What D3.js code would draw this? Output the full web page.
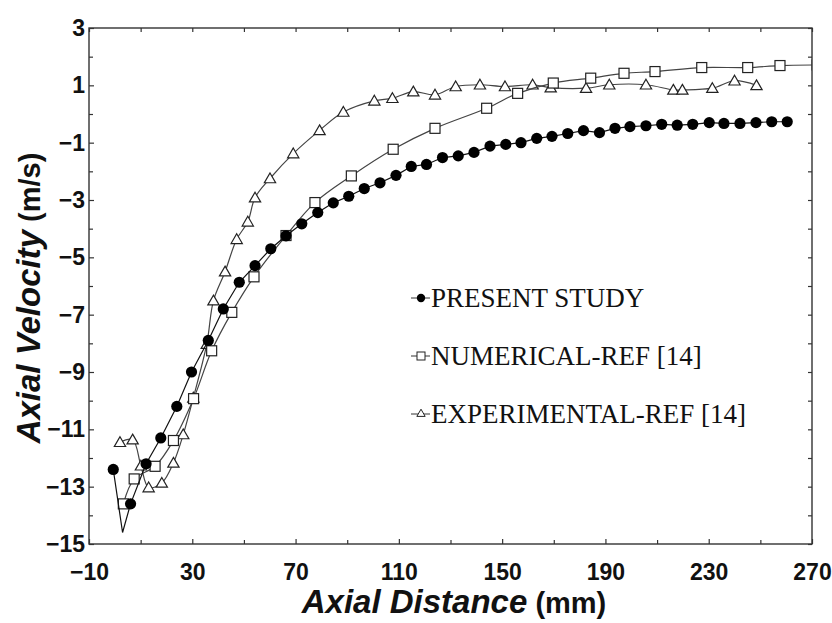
<!DOCTYPE html>
<html>
<head>
<meta charset="utf-8">
<script src="https://cdn.jsdelivr.net/npm/d3@7"></script>
<style>
  body { margin: 0; background: #fff; }
  svg { display: block; }
</style>
</head>
<body>
<svg id="chart" width="832" height="623"></svg>
<script>
// values
const presentX = [-0.6, 6.1, 12.1, 17.8, 24.0, 29.7, 36.2, 42.0, 48.2, 54.3, 60.4, 66.3, 72.4, 78.6, 84.6,
  90.6, 96.6, 102.7, 108.9, 114.8, 120.7, 126.9, 133.0, 139.1, 145.3, 151.4, 157.3, 163.4, 169.3, 175.4,
  181.5, 187.7, 193.7, 199.5, 205.7, 211.8, 217.8, 223.8, 230.2, 235.9, 242.1, 248.3, 254.4, 260.4];
const presentY = [-12.4, -13.6, -12.2, -11.3, -10.2, -9.0, -7.9, -6.8, -5.87, -5.29, -4.70, -4.25, -3.83, -3.44, -3.10,
  -2.87, -2.60, -2.40, -2.14, -1.83, -1.76, -1.52, -1.46, -1.34, -1.12, -1.06, -1.00, -0.85, -0.78, -0.68,
  -0.58, -0.65, -0.50, -0.44, -0.41, -0.36, -0.39, -0.36, -0.30, -0.33, -0.33, -0.30, -0.27, -0.27];
// the line dips to a sharp spike between the first two circles
const presentSpikeX = 3.0;
const presentSpikeY = -14.6;

const numericalX = [3.3, 7.5, 15.6, 22.7, 30.5, 37.5, 45.3, 53.9, 66.3, 77.5, 91.6, 107.8, 124.0, 144.0,
  156.0, 169.8, 184.3, 197.2, 209.2, 227.3, 245.1, 257.6, 272];
const numericalY = [-13.6, -12.73, -12.29, -11.39, -9.93, -8.26, -6.92, -5.68, -4.24, -3.09, -2.16, -1.23, -0.50, 0.20,
  0.72, 1.08, 1.25, 1.42, 1.48, 1.62, 1.62, 1.69, 1.71];

const experimentalX = [2.0, 6.9, 10.1, 13.1, 18.2, 22.7, 26.5, 30.4, 35.6, 38.2, 42.7, 47.2, 51.5, 54.3, 60.1,
  69.1, 79.3, 88.5, 100.5, 107.5, 115.6, 124.0, 132.0, 141.4, 151.1, 161.8, 168.8, 182.5, 191.5, 205.7,
  216.3, 219.8, 231.4, 240.0, 248.5];
const experimentalY = [-11.45, -11.36, -12.27, -13.03, -12.87, -12.17, -11.18, -9.9, -8.03, -6.51, -5.5, -4.37, -3.76, -2.92, -2.25,
  -1.38, -0.57, 0.07, 0.46, 0.55, 0.78, 0.67, 0.96, 1.02, 0.96, 1.02, 0.92, 0.90, 1.02, 1.02,
  0.84, 0.84, 0.90, 1.16, 1.00];

const xTicks = [-10, 30, 70, 110, 150, 190, 230, 270];
const xMinorTicks = [10, 50, 90, 130, 170, 210, 250];
const yTicks = [3, 1, -1, -3, -5, -7, -9, -11, -13, -15];
const yMinorTicks = [2, 0, -2, -4, -6, -8, -10, -12, -14];
const legendLabels = ['PRESENT STUDY', 'NUMERICAL-REF [14]', 'EXPERIMENTAL-REF [14]'];

let svg = d3.select('#chart');

let padL = 89, padT = 28, padR = 812, padB = 544;
let w = padR - padL, h = padB - padT;

let x = d3.scaleLinear().domain([-10, 270]).range([0, w]);
let y = d3.scaleLinear().domain([-15, 3]).range([h, 0]);

let g = svg.append('g').attr('transform', `translate(${padL},${padT})`);

g.append('clipPath').attr('id', 'plotclip')
  .append('rect').attr('width', w).attr('height', h);

let axisColor = '#333';
let tickFont = 'bold 23px "Liberation Sans", Arial, sans-serif';

// frame
g.append('rect')
  .attr('width', w).attr('height', h)
  .attr('fill', 'none').attr('stroke', axisColor).attr('stroke-width', 1.4);

function styleAxis(sel) {
  sel.select('.domain').remove();
  sel.selectAll('line').attr('stroke', axisColor).attr('stroke-width', 1.2);
  sel.selectAll('text').style('font', tickFont).attr('fill', '#111');
}

// major ticks with labels (inward)
g.append('g').attr('transform', `translate(0,${h})`)
  .call(d3.axisBottom(x).tickValues(xTicks).tickSize(-5).tickPadding(20).tickFormat(d3.format('d')))
  .call(styleAxis);
g.append('g')
  .call(d3.axisLeft(y).tickValues(yTicks).tickSize(-5).tickPadding(4).tickFormat(d3.format('d')))
  .call(styleAxis);

// minor ticks + mirrored ticks
g.append('g').attr('transform', `translate(0,${h})`)
  .call(d3.axisBottom(x).tickValues(xMinorTicks).tickSize(-4).tickFormat(''))
  .call(styleAxis);
g.append('g')
  .call(d3.axisLeft(y).tickValues(yMinorTicks).tickSize(-4).tickFormat(''))
  .call(styleAxis);
g.append('g').attr('transform', `translate(${w},0)`)
  .call(d3.axisRight(y).tickValues(yTicks.concat(yMinorTicks)).tickSize(-4).tickFormat(''))
  .call(styleAxis);
g.append('g')
  .call(d3.axisTop(x).tickValues(xTicks.concat(xMinorTicks)).tickSize(-4).tickFormat(''))
  .call(styleAxis);

let plot = g.append('g').attr('clip-path', 'url(#plotclip)');

let present = presentX.map((d, i) => ({x: d, y: presentY[i]}));
let presentLine = present.slice(0, 1)
  .concat([{x: presentSpikeX, y: presentSpikeY}], present.slice(1));
let numerical = numericalX.map((d, i) => ({x: d, y: numericalY[i]}));
let experimental = experimentalX.map((d, i) => ({x: d, y: experimentalY[i]}));

let smooth = d3.line().curve(d3.curveCatmullRom.alpha(0.5))
  .x(d => x(d.x)).y(d => y(d.y));
let straight = d3.line().x(d => x(d.x)).y(d => y(d.y));

let triangle = d3.symbol().type(d3.symbolTriangle).size(55);

// experimental
plot.append('path').datum(experimental)
  .attr('fill', 'none').attr('stroke', '#444').attr('stroke-width', 1.2)
  .attr('d', smooth);
plot.selectAll('.tri').data(experimental).enter().append('path')
  .attr('class', 'tri')
  .attr('transform', d => `translate(${x(d.x)},${y(d.y) + 1})`)
  .attr('d', triangle)
  .attr('fill', '#fff').attr('stroke', '#222').attr('stroke-width', 1.2);

// numerical
plot.append('path').datum(numerical)
  .attr('fill', 'none').attr('stroke', '#444').attr('stroke-width', 1.2)
  .attr('d', smooth);
plot.selectAll('.sq').data(numerical).enter().append('rect')
  .attr('class', 'sq')
  .attr('x', d => x(d.x) - 5).attr('y', d => y(d.y) - 5)
  .attr('width', 10).attr('height', 10)
  .attr('fill', '#fff').attr('stroke', '#222').attr('stroke-width', 1.2);

// present study
plot.append('path').datum(presentLine)
  .attr('fill', 'none').attr('stroke', '#111').attr('stroke-width', 1.2)
  .attr('d', straight);
plot.selectAll('.dot').data(present).enter().append('circle')
  .attr('class', 'dot')
  .attr('cx', d => x(d.x)).attr('cy', d => y(d.y))
  .attr('r', 5.6).attr('fill', '#000');

// legend
let legend = svg.append('g').attr('transform', 'translate(411,298)');
let rowGap = 58;
legendLabels.forEach((label, i) => {
  let row = legend.append('g').attr('transform', `translate(0,${i * rowGap})`);
  row.append('line').attr('x1', 0).attr('x2', 19).attr('y1', 0).attr('y2', 0)
    .attr('stroke', '#333').attr('stroke-width', 1);
  if (i === 0) {
    row.append('circle').attr('cx', 10).attr('cy', 0).attr('r', 4.2).attr('fill', '#000');
  } else if (i === 1) {
    row.append('rect').attr('x', 6).attr('y', -4).attr('width', 8).attr('height', 8)
      .attr('fill', '#fff').attr('stroke', '#222');
  } else {
    row.append('path').attr('transform', 'translate(10,0)')
      .attr('d', d3.symbol().type(d3.symbolTriangle).size(30))
      .attr('fill', '#fff').attr('stroke', '#222');
  }
  row.append('text').attr('x', 20).attr('y', 9)
    .style('font', '27px "Liberation Serif", "Times New Roman", serif')
    .attr('fill', '#111')
    .text(label);
});

// axis titles
let titleFont = 'bold 33px "Liberation Sans", Arial, sans-serif';
let xTitle = svg.append('text')
  .attr('x', 454).attr('y', 613)
  .attr('text-anchor', 'middle')
  .style('font', titleFont)
  .attr('fill', '#111');
xTitle.append('tspan').style('font-style', 'italic').text('Axial Distance');
xTitle.append('tspan').style('font-size', '29px').text(' (mm)');

let yTitle = svg.append('text')
  .attr('transform', 'translate(40,298) rotate(-90)')
  .attr('text-anchor', 'middle')
  .style('font', titleFont)
  .attr('fill', '#111');
yTitle.append('tspan').style('font-style', 'italic').text('Axial Velocity');
yTitle.append('tspan').style('font-size', '29px').text(' (m/s)');
</script>
</body>
</html>
